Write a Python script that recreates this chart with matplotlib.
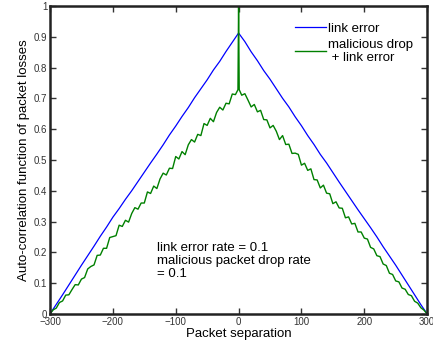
import numpy as np
import matplotlib
matplotlib.use("Agg")
import matplotlib.pyplot as plt

plt.rcParams['font.family'] = ['Liberation Sans', 'DejaVu Sans']

# packet separation grid for each series
blue_lags = np.arange(-300, 301, 10)
green_lags = np.arange(-300, 301, 5)

# link error only
blue_vals = [
    0.000, 0.031, 0.062, 0.094, 0.126, 0.158, 0.189, 0.220, 0.252, 0.282,
    0.314, 0.342, 0.372, 0.400, 0.430, 0.460, 0.490, 0.519, 0.549, 0.581,
    0.610, 0.641, 0.670, 0.702, 0.731, 0.760, 0.792, 0.820, 0.852, 0.882,
    0.912,
    0.884, 0.851, 0.822, 0.790, 0.762, 0.731, 0.700, 0.672, 0.640, 0.611,
    0.579, 0.550, 0.518, 0.490, 0.459, 0.428, 0.398, 0.368, 0.338, 0.309,
    0.280, 0.250, 0.218, 0.188, 0.158, 0.126, 0.094, 0.062, 0.030, 0.000,
]

# malicious drop + link error (lag 0 spike kept separately)
green_vals = [
    0.000, 0.013, 0.019, 0.037, 0.042, 0.061, 0.062, 0.079, 0.095, 0.094,
    0.113, 0.118, 0.146, 0.154, 0.159, 0.190, 0.191, 0.213, 0.213, 0.248,
    0.251, 0.254, 0.288, 0.284, 0.304, 0.298, 0.326, 0.345, 0.340, 0.360,
    0.360, 0.396, 0.391, 0.415, 0.407, 0.438, 0.457, 0.451, 0.473, 0.472,
    0.511, 0.503, 0.527, 0.517, 0.549, 0.566, 0.558, 0.583, 0.579, 0.618,
    0.612, 0.635, 0.624, 0.654, 0.671, 0.662, 0.684, 0.682, 0.714, 0.712,
    0.728,
    0.710, 0.715, 0.694, 0.672, 0.680, 0.656, 0.661, 0.631, 0.630, 0.604,
    0.612, 0.593, 0.566, 0.579, 0.550, 0.551, 0.521, 0.522, 0.518, 0.483,
    0.489, 0.466, 0.471, 0.436, 0.435, 0.409, 0.418, 0.392, 0.390, 0.358,
    0.364, 0.344, 0.343, 0.312, 0.315, 0.292, 0.294, 0.266, 0.266, 0.246,
    0.243, 0.216, 0.211, 0.189, 0.186, 0.162, 0.157, 0.132, 0.128, 0.107,
    0.104, 0.084, 0.080, 0.063, 0.059, 0.041, 0.035, 0.020, 0.012, 0.000,
]
green_spike = 1.0

x_ticks = [-300, -200, -100, 0, 100, 200, 300]
y_ticks = [0, 0.1, 0.2, 0.3, 0.4, 0.5, 0.6, 0.7, 0.8, 0.9, 1]
y_ticklabels = ["0", "0.1", "0.2", "0.3", "0.4", "0.5", "0.6", "0.7", "0.8", "0.9", "1"]

# put the lag-0 spike in as a one-sample-wide line
mid = len(green_lags) // 2
gx = np.concatenate([green_lags[:mid], [-1, 0, 1], green_lags[mid + 1:]])
gy = np.concatenate([green_vals[:mid], [green_vals[mid], green_spike, green_vals[mid]],
                     green_vals[mid + 1:]])

fig = plt.figure(figsize=(4.33, 3.48), dpi=100)
ax = fig.add_axes([0.1155, 0.098, 0.871, 0.885])

ax.plot(blue_lags, blue_vals, color=(0, 0, 1), lw=0.9, label="link error")
ax.plot(gx, gy, color=(0, 0.5, 0), lw=1.0, label="malicious drop\n + link error")

ax.set_xlim(-300, 300)
ax.set_ylim(0, 1)
ax.set_xticks(x_ticks)
ax.set_yticks(y_ticks)
ax.set_yticklabels(y_ticklabels)
ax.tick_params(direction="in", length=4, width=1, labelsize=7, pad=2,
               top=True, right=True, colors="#333333")
for s in ax.spines.values():
    s.set_linewidth(1.8)
    s.set_color("#222222")

ax.set_xlabel("Packet separation", fontsize=9.5, labelpad=1)
ax.set_ylabel("Auto-correlation function of packet losses", fontsize=9.5, labelpad=3)

ax.legend(loc="upper right", frameon=False, fontsize=9.5, handlelength=2.3,
          handletextpad=0.2, labelspacing=0.3, borderaxespad=0.5,
          bbox_to_anchor=(0.995, 0.985))

ax.text(-130, 0.235, "link error rate = 0.1\nmalicious packet drop rate\n= 0.1",
        fontsize=9.5, va="top", ha="left", linespacing=1.15)

fig.savefig("out.png", dpi=100)
